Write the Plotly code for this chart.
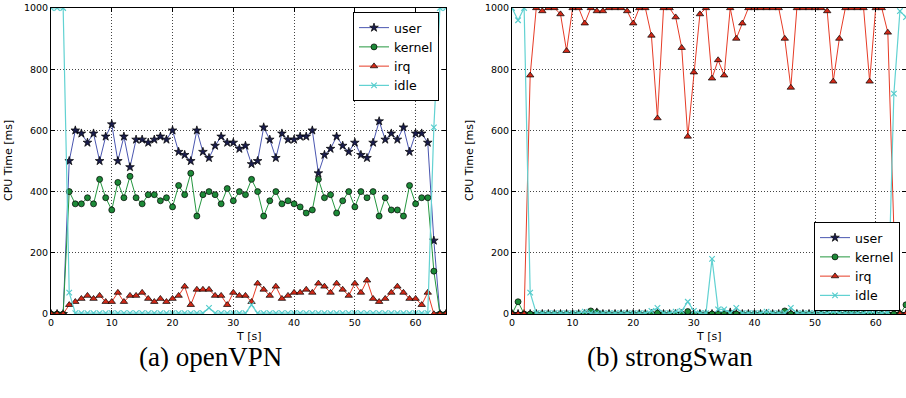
import plotly.graph_objects as go

W, H = 906, 398

# ---------------- data ----------------
t_a = list(range(66))
user_a = [0, 0, 0, 500, 600, 590, 560, 590, 500, 580, 620, 500, 580, 480, 570, 570, 560, 570, 580, 570,
          600, 530, 520, 500, 600, 530, 510, 550, 580, 560, 560, 540, 550, 490, 500, 610, 570, 510, 590, 570,
          570, 580, 580, 600, 460, 520, 540, 580, 550, 530, 560, 520, 510, 560, 630, 570, 590, 570, 610, 530,
          590, 590, 560, 240, 0, 0]
kernel_a = [0, 0, 0, 400, 360, 360, 380, 360, 440, 380, 340, 430, 380, 450, 380, 360, 390, 390, 370, 380,
            350, 420, 390, 460, 320, 390, 400, 390, 360, 410, 370, 400, 390, 440, 400, 320, 370, 400, 360, 370,
            360, 350, 330, 340, 440, 380, 390, 330, 370, 400, 350, 400, 380, 400, 320, 380, 340, 340, 320, 420,
            360, 380, 380, 140, 0, 0]
irq_a = [0, 0, 0, 30, 40, 50, 60, 50, 60, 40, 40, 70, 40, 60, 60, 70, 50, 40, 50, 40,
         50, 60, 90, 30, 80, 80, 80, 60, 60, 30, 70, 60, 60, 40, 100, 80, 60, 90, 50, 60,
         70, 70, 80, 70, 100, 90, 70, 100, 80, 60, 100, 70, 110, 50, 40, 50, 70, 90, 70, 50,
         50, 30, 70, 0, 0, 0]
idle_a = [1000, 1000, 1000, 70, 3, 3, 3, 3, 3, 3, 3, 3, 3, 3, 3, 3, 3, 3, 3, 3,
          3, 3, 3, 3, 3, 3, 20, 3, 3, 3, 3, 3, 3, 30, 3, 3, 3, 3, 3, 3,
          3, 3, 3, 3, 3, 3, 3, 3, 3, 3, 3, 3, 3, 3, 3, 3, 3, 3, 3, 3,
          3, 3, 3, 610, 1000, 1000]

t_b = list(range(66))
user_b = [0, 0, 0, 0, 0, 0, 0, 0, 0, 0, 0, 0, 0, 0, 5, 0, 0, 0, 0, 0,
          0, 0, 0, 0, 0, 0, 0, 0, 0, 0, 0, 0, 0, 0, 0, 0, 5, 0, 0, 0,
          0, 0, 0, 0, 0, 0, 0, 0, 0, 0, 0, 0, 0, 0, 0, 0, 0, 0, 0, 0,
          0, 0, 0, 0, 0, 0]
kernel_b = [0, 40, 0, 0, 0, 0, 0, 0, 0, 0, 0, 0, 0, 10, 5, 0, 0, 0, 0, 0,
            0, 0, 0, 0, 3, 0, 0, 0, 0, 8, 0, 0, 0, 0, 0, 0, 0, 0, 0, 0,
            0, 0, 0, 0, 0, 10, 0, 0, 0, 0, 0, 0, 0, 0, 0, 0, 10, 0, 0, 0,
            0, 0, 0, 0, 0, 30]
irq_b = [0, 0, 0, 780, 1000, 990, 1000, 1000, 980, 860, 1000, 1000, 950, 1000, 990, 990, 1000, 1000, 1000, 990,
         950, 1000, 1000, 910, 640, 1000, 1000, 970, 870, 580, 790, 980, 1000, 770, 830, 780, 1000, 900, 950, 1000,
         1000, 1000, 1000, 1000, 1000, 900, 740, 1000, 1000, 1000, 1000, 1000, 990, 760, 900, 1000, 1000, 1000, 1000, 760,
         1000, 1000, 920, 275, 0, 0]
idle_b = [1000, 960, 1000, 70, 3, 3, 3, 3, 3, 3, 3, 3, 8, 3, 3, 3, 3, 3, 3, 3,
          3, 3, 3, 10, 20, 3, 3, 8, 10, 40, 10, 3, 3, 180, 15, 15, 3, 20, 3, 3,
          3, 3, 8, 3, 3, 3, 20, 3, 3, 3, 3, 3, 3, 8, 3, 3, 3, 3, 3, 8,
          3, 3, 5, 720, 990, 970]

series_names = ["user", "kernel", "irq", "idle"]
x_ticks = [0, 10, 20, 30, 40, 50, 60]
y_ticks = [0, 200, 400, 600, 800, 1000]
captions = ["(a) openVPN", "(b) strongSwan"]

# ---------------- styles ----------------
styles = {
    "user": dict(line=dict(color="#4a56b0", width=1),
                 marker=dict(symbol="star", size=6.5, color="#1a1d4c", line=dict(color="black", width=0.7))),
    "kernel": dict(line=dict(color="#24973f", width=1),
                   marker=dict(symbol="circle", size=6, color="#1d8a38", line=dict(color="black", width=0.7))),
    "irq": dict(line=dict(color="#e63b26", width=1),
                marker=dict(symbol="triangle-up", size=6.5, color="#d42a18", line=dict(color="black", width=0.7))),
    "idle": dict(line=dict(color="#62d2d2", width=1.2),
                 marker=dict(symbol="x-thin", size=5.5, color="#55cccc", line=dict(color="#55cccc", width=1.2))),
}

fig = go.Figure()

datasets = [
    (t_a, [user_a, kernel_a, irq_a, idle_a], "x", "y", "legend"),
    (t_b, [user_b, kernel_b, irq_b, idle_b], "x2", "y2", "legend2"),
]
for t, ys, xa, ya, lg in datasets:
    for name, vals in zip(series_names, ys):
        st = styles[name]
        fig.add_trace(go.Scatter(
            x=t, y=vals, name=name, mode="lines+markers",
            line=st["line"], marker=st["marker"],
            xaxis=xa, yaxis=ya, legend=lg, cliponaxis=True,
        ))

y_dom = [1 - 314 / H, 1 - 8 / H]
axis_common = dict(
    showline=True, linecolor="black", linewidth=1, mirror="ticks",
    ticks="inside", ticklen=4, tickcolor="black",
    showgrid=True, gridcolor="#444444", griddash="1px,2px", gridwidth=1,
    zeroline=False, automargin=False,
    tickfont=dict(family="DejaVu Sans", size=9.5, color="black"),
)

fig.update_layout(
    width=W, height=H,
    margin=dict(l=0, r=0, t=0, b=0, autoexpand=False),
    paper_bgcolor="white", plot_bgcolor="white",
    xaxis=dict(domain=[51 / W, 446 / W], range=[0, 65], tickvals=x_ticks, anchor="y", **axis_common),
    yaxis=dict(domain=y_dom, range=[0, 1000], tickvals=y_ticks, anchor="x", **axis_common),
    xaxis2=dict(domain=[512 / W, 1.0], range=[0, 65], tickvals=x_ticks, anchor="y2", **axis_common),
    yaxis2=dict(domain=y_dom, range=[0, 1000], tickvals=y_ticks, anchor="x2", **axis_common),
    legend=dict(x=439 / W, y=1 - 12 / H, xanchor="right", yanchor="top",
                bgcolor="white", bordercolor="black", borderwidth=1,
                font=dict(family="DejaVu Sans", size=12.5, color="black"),
                tracegroupgap=0, itemwidth=30),
    legend2=dict(x=900 / W, y=1 - 311 / H, xanchor="right", yanchor="bottom",
                 bgcolor="white", bordercolor="black", borderwidth=1,
                 font=dict(family="DejaVu Sans", size=12.5, color="black"),
                 tracegroupgap=0, itemwidth=30),
    font=dict(family="DejaVu Sans", color="black"),
)

annots = []
# axis titles
for xc in [9 / W, 470 / W]:
    annots.append(dict(text="CPU Time [ms]", x=xc, y=1 - 161 / H, xref="paper", yref="paper",
                       textangle=-90, showarrow=False, xanchor="center", yanchor="middle",
                       font=dict(family="DejaVu Sans", size=11, color="black")))
for xc in [(51 + 446) / 2 / W, (512 + 906) / 2 / W]:
    annots.append(dict(text="T [s]", x=xc, y=1 - 336 / H, xref="paper", yref="paper",
                       showarrow=False, xanchor="center", yanchor="middle",
                       font=dict(family="DejaVu Sans", size=11, color="black")))
# captions
for xc, cap in zip([210 / W, 670 / W], captions):
    annots.append(dict(text=cap, x=xc, y=1 - 357 / H, xref="paper", yref="paper",
                       showarrow=False, xanchor="center", yanchor="middle",
                       font=dict(family="Liberation Serif", size=27, color="black")))
fig.update_layout(annotations=annots)

fig.write_html("out.html", config={"displayModeBar": False},
               post_script="document.body.style.margin='0px';document.body.style.overflow='hidden';")
